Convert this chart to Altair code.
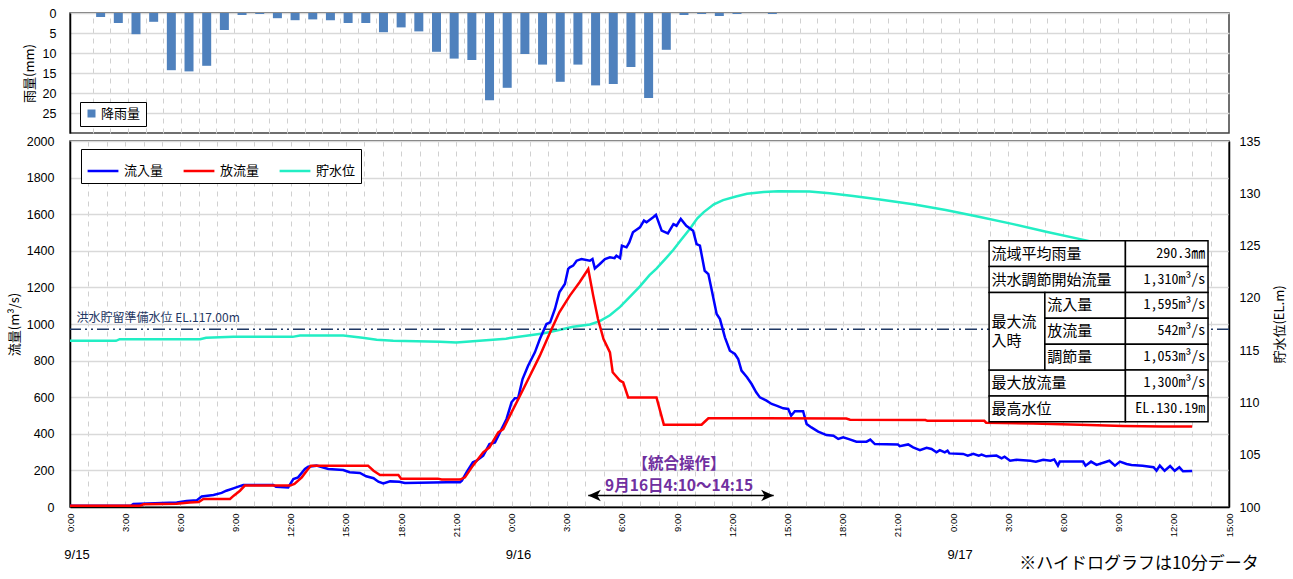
import altair as alt
import pandas as pd

JP = "Noto Sans CJK JP"
MONO = "Noto Sans Mono CJK JP, Noto Sans CJK JP, DejaVu Sans Mono"
NUM = "Liberation Sans Narrow, Liberation Sans, Arial"

# ---------------- data ----------------
# hourly basin rainfall (mm), hour slot 0 = 9/15 0:00-1:00
rain_mm = [0, 1.0, 2.5, 5.3, 2.2, 14.3, 14.6, 13.2, 4.25, 0.5, 0.25, 1.3, 1.8, 1.6,
           1.8, 2.5, 2.5, 4.8, 3.6, 4.6, 9.7, 11.4, 11.75, 21.8, 18.7, 10.25, 12.9,
           17.2, 12.9, 18.1, 17.75, 13.5, 21.25, 9.2, 0.5, 0.25, 0.75, 0.25, 0, 0.25]

# inflow (hours since 9/15 0:00, m3/s)
inflow_h = [0, 3.3, 3.44, 5.8, 6.34, 6.9, 7.16, 7.8, 8.24, 8.5, 8.88, 9.15, 9.42, 11.05,
            11.2, 11.86, 12.14, 12.4, 12.77, 12.95, 13.4, 14.04, 14.85, 15.2, 15.76, 16.1,
            16.5, 16.76, 17.03, 17.4, 17.9, 18.2, 20.5, 21.2, 21.3, 21.56, 21.9, 22.1,
            22.46, 22.8, 23.1, 23.37, 23.73, 24.0, 24.18, 24.36, 24.6, 24.9, 25.27, 25.54,
            25.9, 26.1, 26.36, 26.6, 26.9, 27.08, 27.17, 27.35, 27.54, 27.8, 28.26, 28.4,
            28.53, 28.8, 29.08, 29.35, 29.6, 29.7, 29.9, 30.0, 30.25, 30.4, 30.6, 30.98,
            31.2, 31.34, 31.7, 31.85, 32.16, 32.5, 32.8, 32.97, 33.2, 33.5, 33.87, 34.06,
            34.24, 34.5, 34.7, 34.87, 35.15, 35.33, 35.6, 35.87, 36.14, 36.32, 36.5, 36.8,
            37.05, 37.3, 37.5, 37.86, 38.14, 38.4, 38.77, 39.04, 39.2, 39.4, 39.85, 40.04,
            40.3, 40.67, 41.12, 41.5, 41.76, 42.03, 42.3, 42.75, 43.3, 43.5, 43.75, 45.0,
            45.1, 45.56, 45.83, 46.2, 46.56, 46.83, 47.1, 47.28, 47.55, 47.7, 47.8, 48.55,
            48.8, 49.1, 49.4, 49.55, 49.8, 50.36, 50.64, 50.8, 51.1, 51.45, 52.2, 52.5,
            52.9, 53.3, 53.5, 53.7, 53.8, 55.07, 55.2, 55.5, 55.8, 56.5, 56.8, 57.07,
            57.43, 57.7, 58.3, 58.9, 59.06, 59.24, 59.5, 59.8, 60.05, 60.3, 60.5, 61.0]
inflow_q = [7, 7, 16, 25, 33, 37, 58, 66, 77, 89, 102, 111, 120, 120,
            110, 107, 153, 162, 208, 220, 226, 208, 202, 190, 186, 168,
            157, 138, 129, 140, 138, 131, 135, 135, 144, 190, 244, 253,
            280, 344, 353, 408, 481, 572, 594, 595, 699, 772, 845, 918,
            1000, 1009, 1082, 1173, 1219, 1301, 1310, 1319, 1346, 1355, 1346, 1355,
            1304, 1328, 1355, 1364, 1360, 1373, 1360, 1428, 1419, 1446, 1501, 1528,
            1565, 1556, 1583, 1596, 1510, 1495, 1546, 1537, 1574, 1537, 1510, 1437,
            1428, 1291, 1273, 1191, 1055, 1027, 927, 854, 836, 809, 745, 709,
            672, 627, 599, 581, 563, 554, 539, 536, 499, 523, 523, 454,
            435, 412, 393, 390, 372, 381, 372, 357, 357, 368, 344, 342,
            332, 342, 326, 311, 324, 317, 299, 311, 299, 308, 293, 290,
            281, 291, 281, 286, 277, 281, 266, 275, 253, 258, 253, 248,
            258, 253, 260, 226, 248, 248, 226, 248, 230, 253, 226, 248,
            235, 230, 226, 217, 198, 226, 198, 224, 198, 217, 195, 197]

# outflow (hours, m3/s)
outflow_h = [0, 3.8, 4.0, 5.8, 6.5, 7.0, 7.25, 8.7, 8.9, 9.24, 9.5, 11.96, 12.2, 12.6,
             12.9, 13.1, 16.2, 16.5, 16.85, 17.85, 18.0, 20.0, 20.2, 21.2, 21.47, 21.9,
             22.46, 22.8, 23.28, 23.55, 24.0, 24.46, 25.0, 25.54, 26.1, 26.6, 27.17,
             27.7, 28.17, 28.44, 28.7, 29.0, 29.35, 29.5, 29.9, 30.07, 30.34, 31.88,
             32.28, 34.33, 34.5, 34.7, 36.23, 42.2, 42.4, 46.5, 46.6, 49.7, 49.8, 52.35,
             54.9, 57.25, 59.4, 61.0]
outflow_q = [7, 7, 15, 18, 24, 27, 44, 44, 62, 89, 117, 117, 126, 162,
             202, 226, 226, 198, 175, 175, 155, 155, 150, 150, 162, 226,
             299, 326, 408, 426, 517, 608, 717, 827, 955, 1064, 1155,
             1228, 1300, 1155, 1027, 918, 845, 736, 690, 681, 599, 599,
             450, 450, 466, 485, 485, 483, 477, 475, 471, 471, 461, 456,
             450, 443, 440, 440]

# reservoir water level (hours, EL.m)
level_h = [0, 2.5, 2.7, 7.07, 7.4, 8.88, 12.1, 12.5, 14.85, 15.9, 16.67, 17.57, 20.1,
           21.0, 21.9, 23.7, 24.8, 25.7, 26.45, 27.35, 28.26, 28.8, 29.35, 29.9, 30.43,
           30.98, 31.5, 31.88, 32.4, 32.8, 33.2, 33.7, 34.1, 34.45, 35.0, 35.5, 36.2,
           36.8, 37.7, 38.5, 40.2, 41.3, 42.57, 44.02, 45.83, 47.6, 49.4, 51.27, 53.06,
           55.16, 56.0]
level_el = [115.89, 115.89, 116.05, 116.05, 116.18, 116.27, 116.27, 116.4, 116.4,
            116.18, 116.0, 115.89, 115.8, 115.73, 115.86, 116.1, 116.37, 116.6, 116.88,
            117.23, 117.45, 117.77, 118.34, 119.14, 120.1, 121.1, 122.17, 122.8, 123.8,
            124.6, 125.5, 126.6, 127.6, 128.2, 128.95, 129.35, 129.7, 129.95, 130.12,
            130.19, 130.17, 130.0, 129.75, 129.4, 128.95, 128.4, 127.75, 127.05, 126.32,
            125.52, 125.2]

series_names = ["流入量", "放流量", "貯水位"]
series_colors = ["#0000FF", "#FF0000", "#22EEC4"]

prep_level = 117.0
prep_label = "洪水貯留準備水位 EL.117.00m"

op_start, op_end = 28.17, 38.25          # 9/16 4:10 - 14:15
op_title = "【統合操作】"
op_period = "9月16日4:10～14:15"

day_labels = ["9/15", "9/16", "9/17"]
day_start = [0, 24, 48]

table_rows = ["流域平均雨量", "洪水調節開始流量", "流入量", "放流量", "調節量", "最大放流量", "最高水位"]
table_vals = ["290.3㎜", "1,310m³/s", "1,595m³/s", "542m³/s", "1,053m³/s", "1,300m³/s", "EL.130.19m"]
table_group = ["最大流", "入時"]
footnote = "※ハイドログラフは10分データ"

# ---------------- frames ----------------
rain_df = pd.DataFrame({"slot": list(range(len(rain_mm))), "rain": rain_mm, "series": "降雨量"})
in_df = pd.DataFrame({"h": inflow_h, "v": inflow_q, "series": series_names[0]})
out_df = pd.DataFrame({"h": outflow_h, "v": outflow_q, "series": series_names[1]})
lev_df = pd.DataFrame({"h": level_h, "v": level_el, "series": series_names[2]})

# ---------------- top panel: rainfall ----------------
top = alt.Chart(rain_df).transform_calculate(xc="datum.slot + 0.45").mark_bar(size=9).encode(
    x=alt.X("xc:Q", scale=alt.Scale(domain=[0, 65], nice=False, zero=False),
            axis=alt.Axis(values=list(range(1, 65)), labels=False, ticks=False, domain=False,
                          title=None, grid=True, gridDash=[5, 5], gridColor="#D0D0D0", gridWidth=1,
                          labelPadding=0)),
    y=alt.Y("rain:Q", scale=alt.Scale(domain=[0, 30], reverse=True, nice=False),
            axis=alt.Axis(values=[0, 5, 10, 15, 20, 25], title="雨量(mm)", grid=True,
                          gridColor="#D9D9D9", gridWidth=1.5, ticks=False, labelPadding=14,
                          titlePadding=6, format="d")),
    color=alt.Color("series:N", scale=alt.Scale(domain=["降雨量"], range=["#4F81BD"]),
                    legend=alt.Legend(orient="none", legendX=10, legendY=89, title=None,
                                      symbolType="square", symbolSize=64, labelFont=JP,
                                      labelFontSize=13, strokeColor="black", fillColor="white",
                                      padding=5, labelOffset=3)),
).properties(width=1159, height=120)

# ---------------- bottom panel ----------------
xscale = alt.Scale(domain=[0, 63], nice=False, zero=False)
xaxis = alt.Axis(values=list(range(0, 64)),
                 labelExpr="datum.value % 3 == 0 ? (datum.value % 24) + ':00' : ''",
                 labelAngle=270, labelFontSize=9.5, labelOverlap=False, labelFlush=False,
                 ticks=False, grid=True, gridDash=[5, 5], gridColor="#D0D0D0", gridWidth=1,
                 title=None, labelPadding=6)
qscale = alt.Scale(domain=[0, 2000], nice=False, zero=False)
qaxis = alt.Axis(values=list(range(0, 2001, 200)), title="流量(m³/s)", orient="left", grid=True,
                 gridColor="#D9D9D9", gridWidth=1.5, ticks=False, labelPadding=16, titlePadding=5,
                 format="d")
lscale = alt.Scale(domain=[100, 135], nice=False, zero=False)
laxis = alt.Axis(values=list(range(100, 136, 5)), title="貯水位(EL.m)", orient="right", grid=False,
                 ticks=False, labelPadding=10, titlePadding=14, titleAngle=270, titleBaseline="top",
                 format="d")

X = alt.X("h:Q", scale=xscale, axis=xaxis)
YQ = alt.Y("v:Q", scale=qscale, axis=qaxis)
YL = alt.Y("v:Q", scale=lscale, axis=laxis)
COLOR = alt.Color("series:N", scale=alt.Scale(domain=series_names, range=series_colors),
                  legend=alt.Legend(orient="none", legendX=11, legendY=8, direction="horizontal",
                                    title=None, symbolType="stroke", symbolSize=950,
                                    symbolStrokeWidth=2.5, labelFont=JP, labelFontSize=13,
                                    strokeColor="black", fillColor="white", padding=5,
                                    columnPadding=14, labelOffset=4))

level_line = alt.Chart(lev_df).mark_line(strokeWidth=2.5).encode(x=X, y=YL, color=COLOR)
prep_rule = alt.Chart(pd.DataFrame({"v": [prep_level]})).mark_rule(
    color="#1F3864", strokeWidth=1.5, strokeDash=[12, 4, 2, 4, 2, 4]).encode(y=YL)
prep_text = alt.Chart(pd.DataFrame({"h": [0.35], "v": [118.1], "t": [prep_label]})).mark_text(
    align="left", baseline="middle", font=JP, fontSize=12, color="#1F3864").encode(x=X, y=YL, text="t:N")
level_group = alt.layer(level_line, prep_rule, prep_text)

in_line = alt.Chart(in_df).mark_line(strokeWidth=2.5).encode(x=X, y=YQ, color=COLOR)
out_line = alt.Chart(out_df).mark_line(strokeWidth=2.5).encode(x=X, y=YQ, color=COLOR)

# operation annotation
op_df = pd.DataFrame({"h": [op_start], "h2": [op_end], "v": [63]})
op_rule = alt.Chart(op_df).mark_rule(color="black", strokeWidth=1.5).encode(x=X, x2="h2:Q", y=YQ)
op_left = alt.Chart(op_df).mark_point(shape="M0,0L2.2,-1L1.6,0L2.2,1Z", size=130, filled=True,
                                      color="black", opacity=1).encode(x=X, y=YQ)
op_right = alt.Chart(op_df).mark_point(shape="M0,0L-2.2,-1L-1.6,0L-2.2,1Z", size=130, filled=True,
                                       color="black", opacity=1).encode(
    x=alt.X("h2:Q", scale=xscale, axis=xaxis), y=YQ)
mid = (op_start + op_end) / 2 - 0.1
op_text = alt.Chart(pd.DataFrame({"h": [mid, mid], "v": [236, 114], "t": [op_title, op_period]})).mark_text(
    align="center", baseline="middle", font=JP, fontSize=15.5, fontWeight="bold", color="#7030A0"
).encode(x=X, y=YQ, text="t:N")

# table
cx = [49.96, 52.99, 57.37, 61.86]
rtop, rh = 1455.0, 141.3
edges = [rtop - rh * i for i in range(8)]
cells = []
for r in [0, 1, 5, 6]:
    cells.append({"h": cx[0], "h2": cx[2], "v": edges[r], "v2": edges[r + 1]})
cells.append({"h": cx[0], "h2": cx[1], "v": edges[2], "v2": edges[5]})
for r in [2, 3, 4]:
    cells.append({"h": cx[1], "h2": cx[2], "v": edges[r], "v2": edges[r + 1]})
for r in range(7):
    cells.append({"h": cx[2], "h2": cx[3], "v": edges[r], "v2": edges[r + 1]})
cells_df = pd.DataFrame(cells)
tab_rect = alt.Chart(cells_df).mark_rect(fill="white", stroke="black", strokeWidth=1.5).encode(
    x=X, x2="h2:Q", y=YQ, y2="v2:Q")
lab_rows = []
for r, t in enumerate(table_rows):
    lab_rows.append({"h": (cx[1] if 2 <= r <= 4 else cx[0]) + 0.13,
                     "v": (edges[r] + edges[r + 1]) / 2, "t": t})
gmid = (edges[2] + edges[5]) / 2
lab_rows.append({"h": cx[0] + 0.13, "v": gmid + 51, "t": table_group[0]})
lab_rows.append({"h": cx[0] + 0.13, "v": gmid - 51, "t": table_group[1]})
tab_lab = alt.Chart(pd.DataFrame(lab_rows)).mark_text(
    align="left", baseline="middle", font=JP, fontSize=15, color="black").encode(x=X, y=YQ, text="t:N")
val_rows = [{"h": cx[3] - 0.15, "v": (edges[r] + edges[r + 1]) / 2, "t": t} for r, t in enumerate(table_vals)]
tab_val = alt.Chart(pd.DataFrame(val_rows)).mark_text(
    align="right", baseline="middle", font=MONO, fontSize=14, color="black").encode(x=X, y=YQ, text="t:N")

# date labels and footnote below the axis
day_txt = alt.Chart(pd.DataFrame({"h": day_start, "v": [-265] * 3, "t": day_labels})).mark_text(
    align="center", baseline="middle", dx=7, font=NUM, fontSize=13, color="black").encode(x=X, y=YQ, text="t:N")
foot_txt = alt.Chart(pd.DataFrame({"h": [51.6], "v": [-314], "t": [footnote]})).mark_text(
    align="left", baseline="middle", font=JP, fontSize=17, color="black").encode(x=X, y=YQ, text="t:N")

flow_group = alt.layer(in_line, out_line, op_rule, op_left, op_right, op_text,
                       tab_rect, tab_lab, tab_val, day_txt, foot_txt)

bottom = alt.layer(level_group, flow_group).resolve_scale(y="independent").properties(width=1159, height=366)

chart = alt.vconcat(top, bottom, spacing=0).resolve_scale(
    x="independent", y="independent", color="independent"
).properties(
    padding={"left": 7, "top": 6, "right": 0, "bottom": 0}, background="white"
).configure_view(stroke="#404040", strokeWidth=1.5).configure_axis(
    labelFont=NUM, labelFontSize=12.5, labelColor="black", titleFont=JP, titleFontSize=13,
    titleFontWeight="normal", titleColor="black", domainColor="black", domainWidth=1.5
)

chart.save("out.html", embed_options={"renderer": "svg", "actions": False})
